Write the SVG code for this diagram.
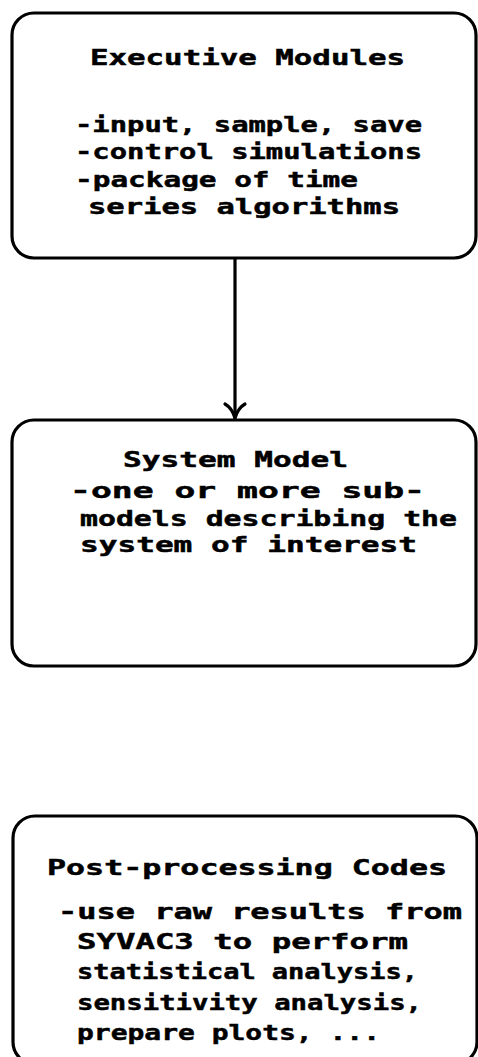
<svg xmlns="http://www.w3.org/2000/svg" width="478" height="1057" viewBox="0 0 478 1057">
  <style>
    .box { fill: none; stroke: #000; stroke-width: 3.2; }
    .edge { fill: none; stroke: #000; stroke-width: 3.2; stroke-linecap: round; stroke-linejoin: round; }
    text { font-family: "DejaVu Sans Mono", "Liberation Mono", monospace; font-weight: bold; font-size: 22px; fill: #000; stroke: #000; stroke-width: 0.5; }
  </style>
  <rect width="478" height="1057" fill="#fff"/>

  <g id="executive-modules">
    <rect class="box" x="12" y="13" width="464" height="245" rx="22" ry="22"/>
    <text x="90" y="65" textLength="315" lengthAdjust="spacingAndGlyphs">Executive Modules</text>
    <text x="75" y="132" textLength="347" lengthAdjust="spacingAndGlyphs">-input, sample, save</text>
    <text x="75" y="159" textLength="347" lengthAdjust="spacingAndGlyphs">-control simulations</text>
    <text x="75" y="187" textLength="283" lengthAdjust="spacingAndGlyphs">-package of time</text>
    <text x="88" y="214" textLength="312" lengthAdjust="spacingAndGlyphs">series algorithms</text>
  </g>

  <g id="system-model">
    <rect class="box" x="12" y="420" width="464" height="246" rx="22" ry="22"/>
    <text x="123" y="467" textLength="225" lengthAdjust="spacingAndGlyphs">System Model</text>
    <text x="70" y="498" textLength="355" lengthAdjust="spacingAndGlyphs">-one or more sub-</text>
    <text x="80" y="526" textLength="377" lengthAdjust="spacingAndGlyphs">models describing the</text>
    <text x="80" y="552" textLength="337" lengthAdjust="spacingAndGlyphs">system of interest</text>
  </g>

  <g id="post-processing-codes">
    <rect class="box" x="13" y="816" width="464" height="248" rx="22" ry="22"/>
    <text x="47" y="875" textLength="400" lengthAdjust="spacingAndGlyphs">Post-processing Codes</text>
    <text x="58" y="919" textLength="404" lengthAdjust="spacingAndGlyphs">-use raw results from</text>
    <text x="77" y="949" textLength="331" lengthAdjust="spacingAndGlyphs">SYVAC3 to perform</text>
    <text x="77" y="979" textLength="341" lengthAdjust="spacingAndGlyphs">statistical analysis,</text>
    <text x="77" y="1010" textLength="345" lengthAdjust="spacingAndGlyphs">sensitivity analysis,</text>
    <text x="77" y="1040" textLength="303" lengthAdjust="spacingAndGlyphs">prepare plots, ...</text>
  </g>

  <g id="connectors">
    <line class="edge" x1="235" y1="259" x2="235" y2="418"/>
    <path class="edge" d="M225 404 Q232 408 235 418 Q238 408 245 404"/>
  </g>
</svg>
